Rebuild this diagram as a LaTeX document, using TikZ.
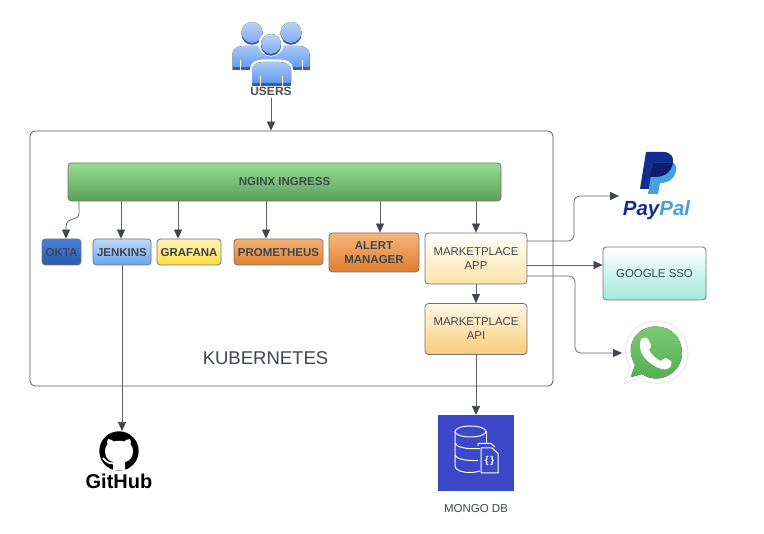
\documentclass[tikz,border=0pt]{standalone}
\usepackage{fontspec}
\setmainfont{Liberation Sans}
\usetikzlibrary{arrows.meta,calc}
\definecolor{edgeC}{HTML}{5E636B}
\definecolor{tipC}{HTML}{3F4650}
\definecolor{txtC}{HTML}{3F4650}
\definecolor{ppD}{HTML}{102F8F}
\definecolor{ppM}{HTML}{0B1F6E}
\definecolor{ppL}{HTML}{469FE0}
\definecolor{mongoC}{HTML}{3C48C8}
\definecolor{uDark}{HTML}{2F5FB0}
\definecolor{uHeadT}{HTML}{BAD3F8}
\definecolor{uHeadB}{HTML}{80AAEC}
\definecolor{uBodyT}{HTML}{A8C8F6}
\definecolor{uBodyB}{HTML}{5F98EE}
\tikzset{
  x=1pt,y=-1pt,
  conn/.style={draw=edgeC,line width=0.75pt,rounded corners=6pt,-{Triangle[length=9pt,width=8pt,color=tipC]}},
  plainbox/.style={draw=black!55,line width=0.8pt,rounded corners=3.5pt,inner sep=0pt,text=txtC,align=center,font=\fontsize{11.4}{14}\selectfont},
  boldbox/.style={plainbox,font=\fontsize{11.5}{14}\selectfont\bfseries},
  lowtext/.style={text height=10pt,text depth=0pt},
  sized/.style 2 args={minimum width=#1pt,minimum height=#2pt},
  iconbox/.style={inner sep=0pt,outer sep=0pt},
  mline/.style={draw=white,line width=1pt,line join=round},
  ubody/.style={top color=uBodyT,bottom color=uBodyB}
}
\newcommand{\personhead}[3]{%
  \fill[uDark] (#1,#2+1.8) circle (#3);
  \fill[top color=uHeadT,bottom color=uHeadB] (#1,#2) circle (#3);
}
\begin{document}
\begin{tikzpicture}
\useasboundingbox (0,0) rectangle (764,534);
\fill[white] (0,0) rectangle (764,534);
% cluster
\node[draw=black!65,line width=0.8pt,rounded corners=5pt,minimum width=523pt,minimum height=255pt,inner sep=0pt] (kube) at (291.5,258.5) {};
\node[inner sep=0pt,text=txtC,font=\fontsize{18.5}{20}\selectfont] (kubelabel) at (265.5,358) {KUBERNETES};
% boxes
\node[boldbox,sized={433}{38},top color={rgb,255:red,154;green,220;blue,146},bottom color={rgb,255:red,88;green,160;blue,88}] (nginx) at (284.5,182) {NGINX INGRESS};
\node[boldbox,lowtext,sized={39}{26},top color={rgb,255:red,74;green,128;blue,220},bottom color={rgb,255:red,40;green,88;blue,176}] (okta) at (61.5,252) {OKTA};
\node[boldbox,lowtext,sized={58}{26},top color={rgb,255:red,192;green,218;blue,248},bottom color={rgb,255:red,104;green,164;blue,240}] (jenkins) at (122,252) {JENKINS};
\node[boldbox,lowtext,sized={64}{26},top color={rgb,255:red,255;green,243;blue,184},bottom color={rgb,255:red,255;green,221;blue,68}] (grafana) at (189,252) {GRAFANA};
\node[boldbox,lowtext,sized={89}{26},top color={rgb,255:red,245;green,178;blue,116},bottom color={rgb,255:red,224;green,128;blue,48}] (prom) at (278.5,252) {PROMETHEUS};
\node[boldbox,sized={90}{39},top color={rgb,255:red,245;green,182;blue,124},bottom color={rgb,255:red,224;green,124;blue,44}] (alert) at (374,252.5) {ALERT\\MANAGER};
\node[plainbox,sized={102}{51},top color=white,bottom color={rgb,255:red,251;green,227;blue,168}] (app) at (476,258.5) {MARKETPLACE\\APP};
\node[plainbox,sized={102}{51},top color={rgb,255:red,255;green,247;blue,230},bottom color={rgb,255:red,248;green,204;blue,120}] (api) at (476,329) {MARKETPLACE\\API};
\node[plainbox,sized={103}{53},top color=white,bottom color={rgb,255:red,160;green,232;blue,220}] (google) at (654.5,273.5) {GOOGLE SSO};
% icon anchors
\node[iconbox,minimum width=78pt,minimum height=56pt] (users) at (271,70) {};
\node[iconbox,minimum width=40pt,minimum height=40pt] (github) at (119,451) {};
\node[iconbox,minimum width=76pt,minimum height=76pt] (mongo) at (476,453) {};
\node[iconbox,minimum width=72pt,minimum height=66pt] (paypal) at (655,185) {};
\node[iconbox,minimum width=64pt,minimum height=64pt] (whatsapp) at (654,353) {};
% users icon
\begin{scope}
 \fill[ubody] (232.5,70) -- (232.5,54) .. controls (232.5,49) and (237,46) .. (243,46) -- (258,46) .. controls (263,46) and (268,48) .. (271,52) -- (271,70) -- cycle;
 \fill[ubody] (309.5,70) -- (309.5,54) .. controls (309.5,49) and (305,46) .. (299,46) -- (284,46) .. controls (279,46) and (274,48) .. (271,52) -- (271,70) -- cycle;
 \fill[uDark] (232.5,67.5) rectangle (252,70);
 \fill[uDark] (291,67.5) rectangle (309.5,70);
 \fill[white] (239.5,60) rectangle (240.5,70);
 \fill[white] (301.5,60) rectangle (302.5,70);
 \personhead{252}{32.5}{10.5}
 \personhead{291}{32.5}{10.5}
 \fill[white] (271,44) circle (12.5);
 \fill[white] (250,86) -- (250,69) .. controls (250,63) and (256,59.5) .. (262,59.5) -- (280,59.5) .. controls (287,59.5) and (293,63) .. (293,69) -- (293,86) -- cycle;
 \fill[ubody] (252,83.5) -- (252,70) .. controls (252,65) and (257,62) .. (263,62) -- (279,62) .. controls (286,62) and (291,65) .. (291,70) -- (291,83.5) -- cycle;
 \fill[uDark] (252,83) rectangle (291,86);
 \fill[white] (259.5,76) rectangle (260.5,86);
 \fill[white] (281.5,76) rectangle (282.5,86);
 \personhead{271}{44}{10}
\end{scope}
\node[inner sep=0pt,text=black!70,font=\fontsize{12}{13}\selectfont\bfseries] (userslabel) at (271,91.5) {USERS};
% github icon
\fill[black] (github.center) circle (19.7);
\begin{scope}[shift={(github.center)}]
 \fill[white] (-6,19.5) -- (-6,11) .. controls (-11,10) and (-14,6) .. (-14,0) .. controls (-14,-3) and (-13,-5) .. (-11.5,-6.5) .. controls (-12,-8.5) and (-12,-10.5) .. (-11,-12) .. controls (-9,-12) and (-7,-11) .. (-5,-9.5) .. controls (-2,-10.5) and (2,-10.5) .. (5,-9.5) .. controls (7,-11) and (9,-12) .. (11,-12) .. controls (12,-10.5) and (12,-8.5) .. (11.5,-6.5) .. controls (13,-5) and (14,-3) .. (14,0) .. controls (14,6) and (11,10) .. (6,11) -- (6,19.5) -- cycle;
 \draw[white,line width=1.8pt] (-16,7) .. controls (-12,12) and (-10,12) .. (-6,12.5);
\end{scope}
\node[inner sep=0pt,text=black,font=\fontsize{20}{24}\selectfont\bfseries] (ghlabel) at (119,481.5) {GitHub};
% mongo icon
\fill[mongoC] (mongo.south west) rectangle (mongo.north east);
\begin{scope}
 \draw[mline] (470.5,431.5) ellipse (15.5 and 5.5);
 \draw[mline] (455,431.5) -- (455,466) .. controls (455,470) and (462,472.5) .. (470,472.5) .. controls (473,472.5) and (477,472) .. (480,471);
 \draw[mline] (486,431.5) -- (486,443);
 \draw[mline] (455,443) .. controls (456,447) and (466,449.5) .. (480,448.5);
 \draw[mline] (455,455) .. controls (456,459) and (466,461) .. (478,460.5);
 \draw[mline] (478,446) -- (478,443.5) -- (491,443.5) -- (495,447);
 \draw[mline] (481,448) -- (492,448) -- (498,453.5) -- (498,473) -- (481,473) -- cycle;
 \node[inner sep=0pt,text=white,font=\fontsize{10}{10}\selectfont\bfseries] (bracelabel) at (489.5,461) {\{\,\}};
\end{scope}
\node[inner sep=0pt,text=txtC,font=\fontsize{11.5}{13}\selectfont] (mongolabel) at (476,509) {MONGO DB};
% paypal icon
\fill[ppD] (646,152) -- (663,152) .. controls (671,152) and (674,157) .. (673,163) .. controls (671,173) and (664,177) .. (655,177) -- (652,189) -- (640,189) -- cycle;
\fill[ppL] (653,163) -- (673,163) .. controls (675,163) and (677,168) .. (676,171) .. controls (674,180) and (668,183) .. (660,183) -- (658,194) -- (648,194) -- cycle;
\fill[ppM] (653,163) -- (673,163) .. controls (671,173) and (664,177) .. (655,177) -- (650,177) -- cycle;
\node[inner sep=0pt,font=\fontsize{20.5}{22}\selectfont\bfseries\itshape,anchor=base] (pplabel) at (656.5,215.5) {\textcolor{ppD}{Pay}\textcolor{ppL}{Pal}};
% whatsapp icon
\begin{scope}
 \fill[white,draw=black!12,line width=0.6pt] (624,384) -- (630,367) .. controls (618,345) and (632,321) .. (656,321) .. controls (675,321) and (688,336) .. (688,353) .. controls (688,377) and (661,392) .. (640,378) -- cycle;
 \fill[top color={rgb,255:red,124;green,200;blue,116},bottom color={rgb,255:red,78;green,172;blue,76}] (631,377) -- (635,365) .. controls (624,346) and (636,326.5) .. (656,326.5) .. controls (671,326.5) and (682,338) .. (682,353) .. controls (682,372) and (660,386) .. (642,374) -- cycle;
 \fill[white] (641,339) .. controls (643,337) and (647,337) .. (648,339) -- (651,345) .. controls (651,347) and (650,349) .. (649,350) .. controls (652,355) and (656,359) .. (661,361) .. controls (662,360) and (664,358) .. (666,358) -- (671,361) .. controls (672,363) and (671,367) .. (669,368) .. controls (665,371) and (659,369) .. (653,365) .. controls (646,361) and (641,354) .. (640,348) .. controls (640,344) and (640,341) .. (641,339) -- cycle;
\end{scope}
% connectors
\draw[conn] (users.south) -- (users.south |- kube.north);
\draw[draw=edgeC,line width=0.75pt,-{Triangle[length=9pt,width=8pt,color=tipC]}] (nginx.south -| 79,0) -- (79,213) .. controls (79,222) and (66,216) .. (66,227) -- (okta.north -| 66,0);
\draw[conn] (nginx.south -| 121,0) -- (jenkins.north -| 121,0);
\draw[conn] (nginx.south -| 178,0) -- (grafana.north -| 178,0);
\draw[conn] (nginx.south -| 266,0) -- (prom.north -| 266,0);
\draw[conn] (nginx.south -| 380,0) -- (alert.north -| 380,0);
\draw[conn] (nginx.south -| app.north) -- (app.north);
\draw[conn] (app.south) -- (api.north);
\draw[conn] (api.south) -- (mongo.north);
\draw[conn] (jenkins.south) -- (jenkins.south |- github.north);
\coordinate (ppIn) at (619,196);
\coordinate (ppOut) at (527,241);
\draw[conn] (ppOut) -| (574,196) -- (ppIn);
\coordinate (gOut) at (527,265);
\draw[conn] (gOut) -- (gOut -| google.west);
\coordinate (waIn) at (622,353);
\coordinate (waOut) at (527,276);
\draw[conn] (waOut) -| (575,353) -- (waIn);
\end{tikzpicture}
\end{document}
